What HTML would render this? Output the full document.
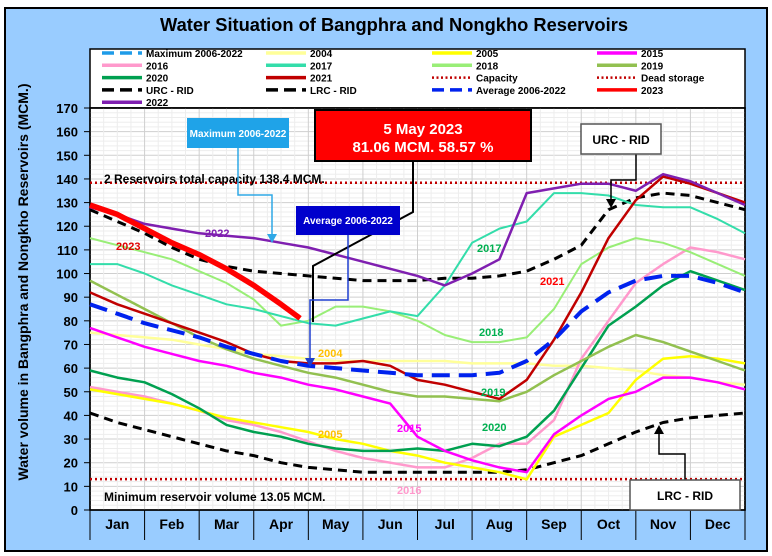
<!DOCTYPE html>
<html><head><meta charset="utf-8"><style>
html,body{margin:0;padding:0;background:#fff}
svg{display:block;font-family:"Liberation Sans",sans-serif}
</style></head><body>
<svg id="c" width="772" height="556" viewBox="0 0 772 556">
<rect x="0" y="0" width="772" height="556" fill="#fff"/>
<rect x="5" y="8" width="762" height="543" fill="#99CCFF" stroke="#000" stroke-width="2"/>
<text x="160" y="31" textLength="468" lengthAdjust="spacingAndGlyphs" font-size="18" font-weight="bold">Water Situation of Bangphra and Nongkho Reservoirs</text>
<rect x="90" y="49" width="655" height="59" fill="#fff" stroke="#000" stroke-width="1.5"/>
<g id="legend"></g>
<rect x="90" y="108" width="655" height="402" fill="#fff" stroke="#000" stroke-width="1.5"/>
<g id="grid"></g>
<g id="axes"></g>
<g id="series"></g>
<g id="notes">
<text x="104" y="183" font-size="12" font-weight="bold">2 Reservoirs total capacity 138.4 MCM.</text>
<text x="104" y="501" font-size="12" font-weight="bold">Minimum reservoir volume 13.05 MCM.</text>
<polyline points="238,148 238,195 272,195 272,236" fill="none" stroke="#2FA8E6" stroke-width="1.5"/>
<polygon points="267,234 277,234 272,243" fill="#2FA8E6"/>
<rect x="187" y="118" width="102" height="30" fill="#1FA3E8"/>
<text x="238" y="137" text-anchor="middle" font-size="10" font-weight="bold" fill="#fff">Maximum 2006-2022</text>
<polyline points="413,161 413,212 313,266 313,322" fill="none" stroke="#000" stroke-width="2"/>
<rect x="315" y="110" width="216" height="51" fill="#FF0000" stroke="#000" stroke-width="2"/>
<text x="423" y="134" text-anchor="middle" font-size="15" font-weight="bold" fill="#fff">5 May 2023</text>
<text x="423" y="152" text-anchor="middle" font-size="15" font-weight="bold" fill="#fff">81.06 MCM. 58.57 %</text>
<polyline points="348,234 348,300 310,300 310,360" fill="none" stroke="#1F3FD0" stroke-width="1.5"/>
<polygon points="305,358 315,358 310,367" fill="#1F3FD0"/>
<rect x="296" y="206" width="104" height="29" fill="#0000CC"/>
<text x="348" y="224" text-anchor="middle" font-size="10" font-weight="bold" fill="#fff">Average 2006-2022</text>
<polyline points="636,154 636,180 611,180 611,202" fill="none" stroke="#000" stroke-width="1.5"/>
<polygon points="606,199 616,199 611,208" fill="#000"/>
<rect x="581" y="124" width="80" height="30" fill="#fff" stroke="#555" stroke-width="1.5"/>
<text x="621" y="144" text-anchor="middle" font-size="12" font-weight="bold">URC - RID</text>
<polyline points="685,480 685,454 659,454 659,432" fill="none" stroke="#000" stroke-width="1.5"/>
<polygon points="654,434 664,434 659,425" fill="#000"/>
<rect x="630" y="480" width="110" height="30" fill="#fff" stroke="#555" stroke-width="1.5"/>
<text x="685" y="500" text-anchor="middle" font-size="12" font-weight="bold">LRC - RID</text>
</g>
<g id="labels"></g>
<text transform="translate(28,282) rotate(-90)" text-anchor="middle" font-size="14" font-weight="bold">Water volume in Bangphra and Nongkho Reservoirs (MCM.)</text>
</svg>
<script>
const months = ["Jan","Feb","Mar","Apr","May","Jun","Jul","Aug","Sep","Oct","Nov","Dec"];
const yTicks = [0,10,20,30,40,50,60,70,80,90,100,110,120,130,140,150,160,170];
const tHalf = [0,0.5,1,1.5,2,2.5,3,3.5,4,4.5,5,5.5,6,6.5,7,7.5,8,8.5,9,9.5,10,10.5,11,11.5,12];
const t2023 = [0,0.5,1,1.5,2,2.5,3,3.5,3.85];
const v2023 = [129,125,119,113,108,102,95,87,81.06];
const v2022 = [128,125,121,119,117,116,115,113,111,108,105,102,99,95,100,106,134,136,138,138,135,142,139,134,129];
const v2017 = [104,104,100,95,91,87,85,82,79,78,81,84,82,95,113,119,122,134,134,133,129,128,128,123,117];
const v2018 = [115,112,109,106,101,96,89,78,80,86,86,84,80,74,71,71,73,85,104,111,115,113,109,104,99];
const v2019 = [97,91,85,79,73,68,64,61,58,56,53,50,48,48,47,46,50,57,63,69,74,71,67,63,59];
const v2021 = [92,87,83,79,75,71,66,63,62,62,63,61,55,53,50,47,55,72,92,115,131,141,138,134,130];
const vAvg = [87,83,79,76,73,69,66,63,61,60,59,58,57,57,57,58,63,72,84,92,97,99,99,96,92];
const v2004 = [75,74,73,72,70,68,66,65,64,63,63,63,63,63,62,62,62,61,61,60,59,57,56,54,53];
const v2015 = [77,73,69,66,63,61,58,56,53,51,48,45,31,25,21,18,16,32,40,47,50,56,56,54,51];
const v2005 = [51,49,47,45,42,39,37,35,33,30,28,25,23,20,18,16,13,31,36,41,55,64,65,64,62];
const v2016 = [52,50,48,45,42,38,36,33,29,25,22,20,18,18,22,28,28,38,64,80,96,104,111,109,106];
const v2020 = [59,56,54,49,43,36,33,31,28,26,25,25,26,25,28,27,31,42,60,78,86,95,101,97,93];
const vURC = [127,122,117,111,106,103,101,100,99,98,97,97,97,98,98,99,101,106,112,127,132,134,133,130,127];
const vLRC = [41,37,34,31,28,25,23,20,18,17,16,16,16,16,16,16,17,20,23,28,33,37,39,40,41];
const capacity = 138.4;
const deadStorage = 13.05;

const NS="http://www.w3.org/2000/svg";
const X0=90,X1=745,Y0=510,Y1=108,YMAX=170;
function xs(t){return X0+t*(X1-X0)/12;}
function ys(v){return Y0-v*(Y0-Y1)/YMAX;}
function mk(tag,attrs,parent){const e=document.createElementNS(NS,tag);for(const k in attrs)e.setAttribute(k,attrs[k]);parent.appendChild(e);return e;}
const grid=document.getElementById('grid'),axes=document.getElementById('axes'),ser=document.getElementById('series'),leg=document.getElementById('legend'),lab=document.getElementById('labels');
for(let v=2;v<170;v+=2){const l=mk('line',{x1:X0,x2:X1,y1:ys(v),y2:ys(v),stroke:v%10==0?'#CFCFCF':'#EDEDED','stroke-width':1},grid);

}
for(let t=0.25;t<12;t+=0.25){const l=mk('line',{x1:xs(t),x2:xs(t),y1:Y1,y2:Y0,stroke:(t%1==0)?'#CFCFCF':'#EDEDED','stroke-width':1},grid);

}
yTicks.forEach(v=>{const tx=mk('text',{x:78,y:ys(v)+5,'text-anchor':'end','font-size':13,'font-weight':'bold'},axes);tx.textContent=v;


const tk=mk('line',{x1:84,x2:90,y1:ys(v),y2:ys(v),stroke:'#000'},axes);

});
const ax=mk('rect',{x:X0,y:Y1,width:X1-X0,height:Y0-Y1,fill:'none',stroke:'#000','stroke-width':1.5},axes);


months.forEach((m,i)=>{const tx=mk('text',{x:xs(i+0.5),y:529,'text-anchor':'middle','font-size':14,'font-weight':'bold'},axes);tx.textContent=m;


const sp=mk('line',{x1:xs(i),x2:xs(i),y1:Y0,y2:540,stroke:'#000','stroke-width':1},axes);

});
const spEnd=mk('line',{x1:xs(12),x2:xs(12),y1:Y0,y2:540,stroke:'#000'},axes);


function hline(v,color,name){const l=mk('line',{x1:X0,x2:X1,y1:ys(v),y2:ys(v),stroke:color,'stroke-width':2.5,'stroke-dasharray':'2 3'},ser);

}
hline(capacity,'#C00000','capacity-line');
hline(deadStorage,'#C00000','dead-storage-line');
function line(ts,vals,color,w,dash,name){const pts=vals.map((v,i)=>xs(ts[i]).toFixed(1)+','+ys(v).toFixed(1)).join(' ');
const p=mk('polyline',{points:pts,fill:'none',stroke:color,'stroke-width':w,'stroke-linejoin':'round'},ser);if(dash)p.setAttribute('stroke-dasharray',dash);

}
line(tHalf,vLRC,'#000',3,'9 6','series-lrc-rid');
line(tHalf,vURC,'#000',3,'9 6','series-urc-rid');
line(tHalf,v2004,'#FFFF99',2.5,null,'series-2004');
line(tHalf,v2016,'#FF99CC',2.5,null,'series-2016');
line(tHalf,v2005,'#FFFF00',2.5,null,'series-2005');
line(tHalf,v2020,'#00A050',2.5,null,'series-2020');
line(tHalf,v2015,'#FF00FF',2.5,null,'series-2015');
line(tHalf,v2019,'#92C050',2.5,null,'series-2019');
line(tHalf,v2018,'#99EE77',2,null,'series-2018');
line(tHalf,v2017,'#33DDAA',2,null,'series-2017');
line(tHalf,v2021,'#C00000',2.5,null,'series-2021');
line(tHalf,vAvg,'#0022EE',4,'18 9','series-average-2006-2022');
line(tHalf,v2022,'#7F1FB0',2.5,null,'series-2022');
line(t2023,v2023,'#FF0000',5.5,null,'series-2023');
const legItems=[["Maximum 2006-2022","#1E9BE8","dash"],["2004","#FFFF99"],["2005","#FFFF00"],["2015","#FF00FF"],
["2016","#FF99CC"],["2017","#33DDAA"],["2018","#99EE77"],["2019","#92C050"],
["2020","#00A050"],["2021","#C00000"],["Capacity","#C00000","dot"],["Dead storage","#C00000","dot"],
["URC - RID","#000","dash"],["LRC - RID","#000","dash"],["Average 2006-2022","#0022EE","dash"],["2023","#FF0000"],["2022","#7F1FB0"]];
const colX=[102,266,432,597];
legItems.forEach((it,i)=>{const r=Math.floor(i/4),c=i%4,y=53+r*12.3,x=colX[c];
const ln=mk('line',{x1:x,x2:x+40,y1:y,y2:y,stroke:it[1],'stroke-width':it[2]=='dot'?2.5:3.5},leg);
if(it[2]=='dash')ln.setAttribute('stroke-dasharray','12 6');
if(it[2]=='dot')ln.setAttribute('stroke-dasharray','2 2.5');


const tx=mk('text',{x:x+44,y:y+4,'font-size':10,'font-weight':'bold'},leg);tx.textContent=it[0];

});
const yl=[["2022",205,237,"#7F1FB0"],["2023",116,250,"#E00000"],["2004",318,357,"#FFC000"],["2005",318,438,"#FFC000"],["2015",397,432,"#FF00FF"],["2016",397,494,"#FF99CC"],["2017",477,252,"#00B050"],["2018",479,336,"#00B050"],["2019",481,396,"#00B050"],["2020",482,431,"#00B050"],["2021",540,285,"#FF0000"]];
yl.forEach(l=>{const tx=mk('text',{x:l[1],y:l[2],'font-size':11,'font-weight':'bold',fill:l[3]},lab);tx.textContent=l[0];

});
</script>
</body></html>
